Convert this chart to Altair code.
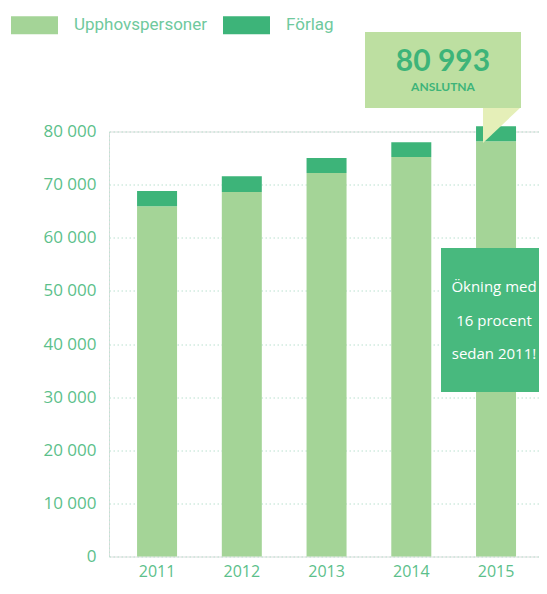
import altair as alt
import pandas as pd

years = ["2011", "2012", "2013", "2014", "2015"]
upphov = [65950, 68600, 72200, 75200, 78150]
forlag = [2850, 3000, 2800, 2800, 2843]
series = ["Upphovspersoner", "Förlag"]
colors = ["#a4d497", "#3db479"]
y_ticks = [0, 10000, 20000, 30000, 40000, 50000, 60000, 70000, 80000]

rows = []
for i, yr in enumerate(years):
    rows.append({"year": yr, "series": series[0], "value": upphov[i], "ord": 0})
    rows.append({"year": yr, "series": series[1], "value": forlag[i], "ord": 1})
df = pd.DataFrame(rows)

FONT = "Open Sans"
LFONT = "Roboto"
AX = "#5cbf8b"

bars = alt.Chart(df).mark_bar(clip=False).encode(
    x=alt.X("year:N", sort=years, title=None,
            scale=alt.Scale(paddingInner=0.528, paddingOuter=0.301, align=0.55),
            axis=alt.Axis(labelAngle=0, ticks=False, domain=False, grid=False,
                          labelFont=FONT, labelFontSize=16, labelColor=AX,
                          labelPadding=7)),
    y=alt.Y("value:Q", stack="zero", title=None,
            scale=alt.Scale(domain=[0, 80000], nice=False),
            axis=alt.Axis(values=y_ticks, format=",d", ticks=False,
                          domain=True, domainColor="#bfe3d3", domainDash=[1.5, 2.5],
                          grid=True, gridColor="#b9e0cf", gridDash=[1.5, 2.5],
                          labelFont=FONT, labelFontSize=17, labelColor=AX,
                          labelPadding=13,
                          labelExpr="replace(datum.label, ',', ' ')")),
    color=alt.Color("series:N", scale=alt.Scale(domain=series, range=colors),
                    title=None,
                    legend=alt.Legend(orient="none", legendX=-98, legendY=-130,
                                      direction="horizontal",
                                      symbolType="M-1,-0.383H1V0.383H-1Z",
                                      symbolSize=2209, symbolStrokeWidth=0,
                                      symbolOpacity=1,
                                      labelFont=LFONT, labelFontSize=17,
                                      labelColor="#6fc99d", labelOffset=16,
                                      columnPadding=15)),
    order=alt.Order("ord:Q"),
)

# callout 1
box1 = alt.Chart(pd.DataFrame({"a": [0]})).mark_rect(color="#bddfa1").encode(
    x=alt.value(256), x2=alt.value(412), y=alt.value(-99.5), y2=alt.value(-23.5))
tail = alt.Chart(pd.DataFrame({"a": [0]})).mark_point(
    shape="M0,0L2,0L0,1.89Z", filled=True, color="#e5efb8", opacity=1, size=1369,
    strokeWidth=0).encode(x=alt.value(374), y=alt.value(-23.5))
t1 = alt.Chart(pd.DataFrame({"t": ["80 993"]})).mark_text(
    font="Lato", fontWeight="bold", fontSize=30, color="#3db479", baseline="middle").encode(
    text="t:N", x=alt.value(334), y=alt.value(-70))
t2 = alt.Chart(pd.DataFrame({"t": ["ANSLUTNA"]})).mark_text(
    font="Lato", fontWeight="bold", fontSize=12, color="#3db479", baseline="middle").encode(
    text="t:N", x=alt.value(334), y=alt.value(-45))

# callout 2
box2 = alt.Chart(pd.DataFrame({"a": [0]})).mark_rect(color="#48b97e").encode(
    x=alt.value(332), x2=alt.value(460), y=alt.value(116.5), y2=alt.value(260.5))
lines = ["Ökning med", "16 procent", "sedan 2011!"]
ly = [155.5, 189.5, 222.5]
t3 = alt.Chart(pd.DataFrame({"t": lines, "py": ly})).mark_text(
    font=FONT, fontSize=15, color="white", baseline="middle", align="center").encode(
    text="t:N", x=alt.value(385), y=alt.Y("py:Q", scale=None))

chart = alt.layer(bars, box1, tail, t1, t2, box2, t3).properties(
    width=430, height=425,
    padding={"left": 101, "top": 123.5, "right": 0, "bottom": 29.5},
    autosize=alt.AutoSizeParams(type="none"),
).configure_view(stroke=None).configure(background="white")

chart.save("out.html", embed_options={"renderer": "svg", "actions": False})
